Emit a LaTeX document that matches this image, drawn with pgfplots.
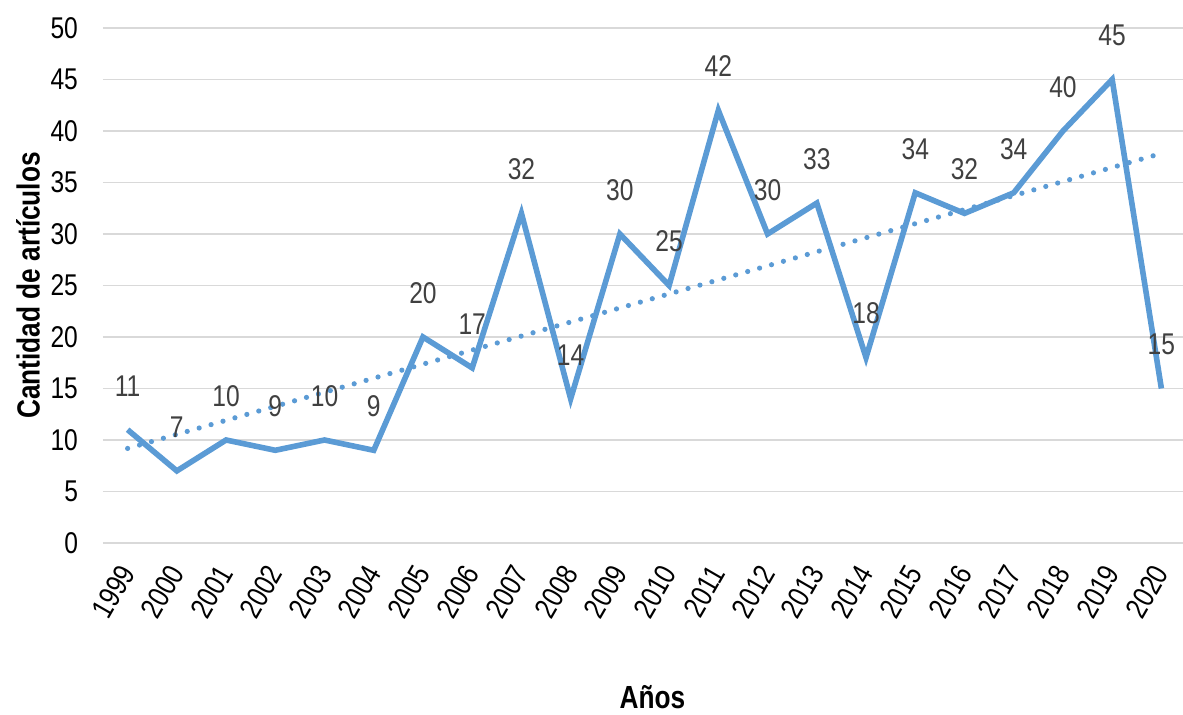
\documentclass[border=0pt]{standalone}
\usepackage{pgfplots}
\pgfplotsset{compat=1.18}
\usepackage{fontspec}
\setmainfont[FakeStretch=0.82]{Liberation Sans}
\definecolor{serie}{HTML}{5B9BD5}
\definecolor{etiq}{HTML}{404040}
\definecolor{rejilla}{HTML}{D9D9D9}
\begin{document}
\begin{tikzpicture}
\begin{axis}[
  at={(0,0)}, anchor=south west,
  scale only axis,
  width=541.5pt, height=257.5pt,
  xmin=-0.5, xmax=21.5,
  ymin=0, ymax=50,
  ytick={0,5,...,50},
  xtick={0,...,21},
  xticklabels={1999,2000,2001,2002,2003,2004,2005,2006,2007,2008,2009,2010,2011,2012,2013,2014,2015,2016,2017,2018,2019,2020},
  axis line style={draw=none},
  major tick length=0pt,
  ymajorgrids,
  grid style={color=rejilla, line width=0.8pt},
  clip=false,
  /pgf/number format/assume math mode=true,
  tick label style={font=\fontsize{15}{18}\selectfont, text=black},
  yticklabel style={anchor=east, xshift=-9pt},
  xticklabel style={xshift=1.5pt, yshift=-9.5pt, rotate=60, anchor=east},
  xlabel={Años},
  ylabel={Cantidad de artículos},
  label style={font=\fontsize{16}{19}\selectfont\bfseries},
  xlabel style={at={(axis description cs:0.5,0)}, anchor=center, yshift=-77pt, xshift=4pt},
  ylabel style={at={(axis description cs:0,0.5)}, anchor=center, yshift=37.5pt},
]
% linear trend of the series
\addplot[serie, line width=2.6pt, line cap=round, dash pattern=on 0pt off 6.2pt]
  coordinates {(0,9.18) (21,37.82)};
% yearly article counts
\addplot[serie, line width=2.8pt, line join=miter,
  nodes near coords,
  every node near coord/.append style={anchor=center, yshift=22pt,
    font=\fontsize{15}{18}\selectfont, text=etiq},
] coordinates {
  (0,11) (1,7) (2,10) (3,9) (4,10) (5,9) (6,20) (7,17) (8,32) (9,14) (10,30)
  (11,25) (12,42) (13,30) (14,33) (15,18) (16,34) (17,32) (18,34) (19,40) (20,45) (21,15)
};
\end{axis}
\pgfresetboundingbox
\path[use as bounding box] (-51.5pt,-86pt) rectangle (540pt,271.5pt);
\end{tikzpicture}
\end{document}
